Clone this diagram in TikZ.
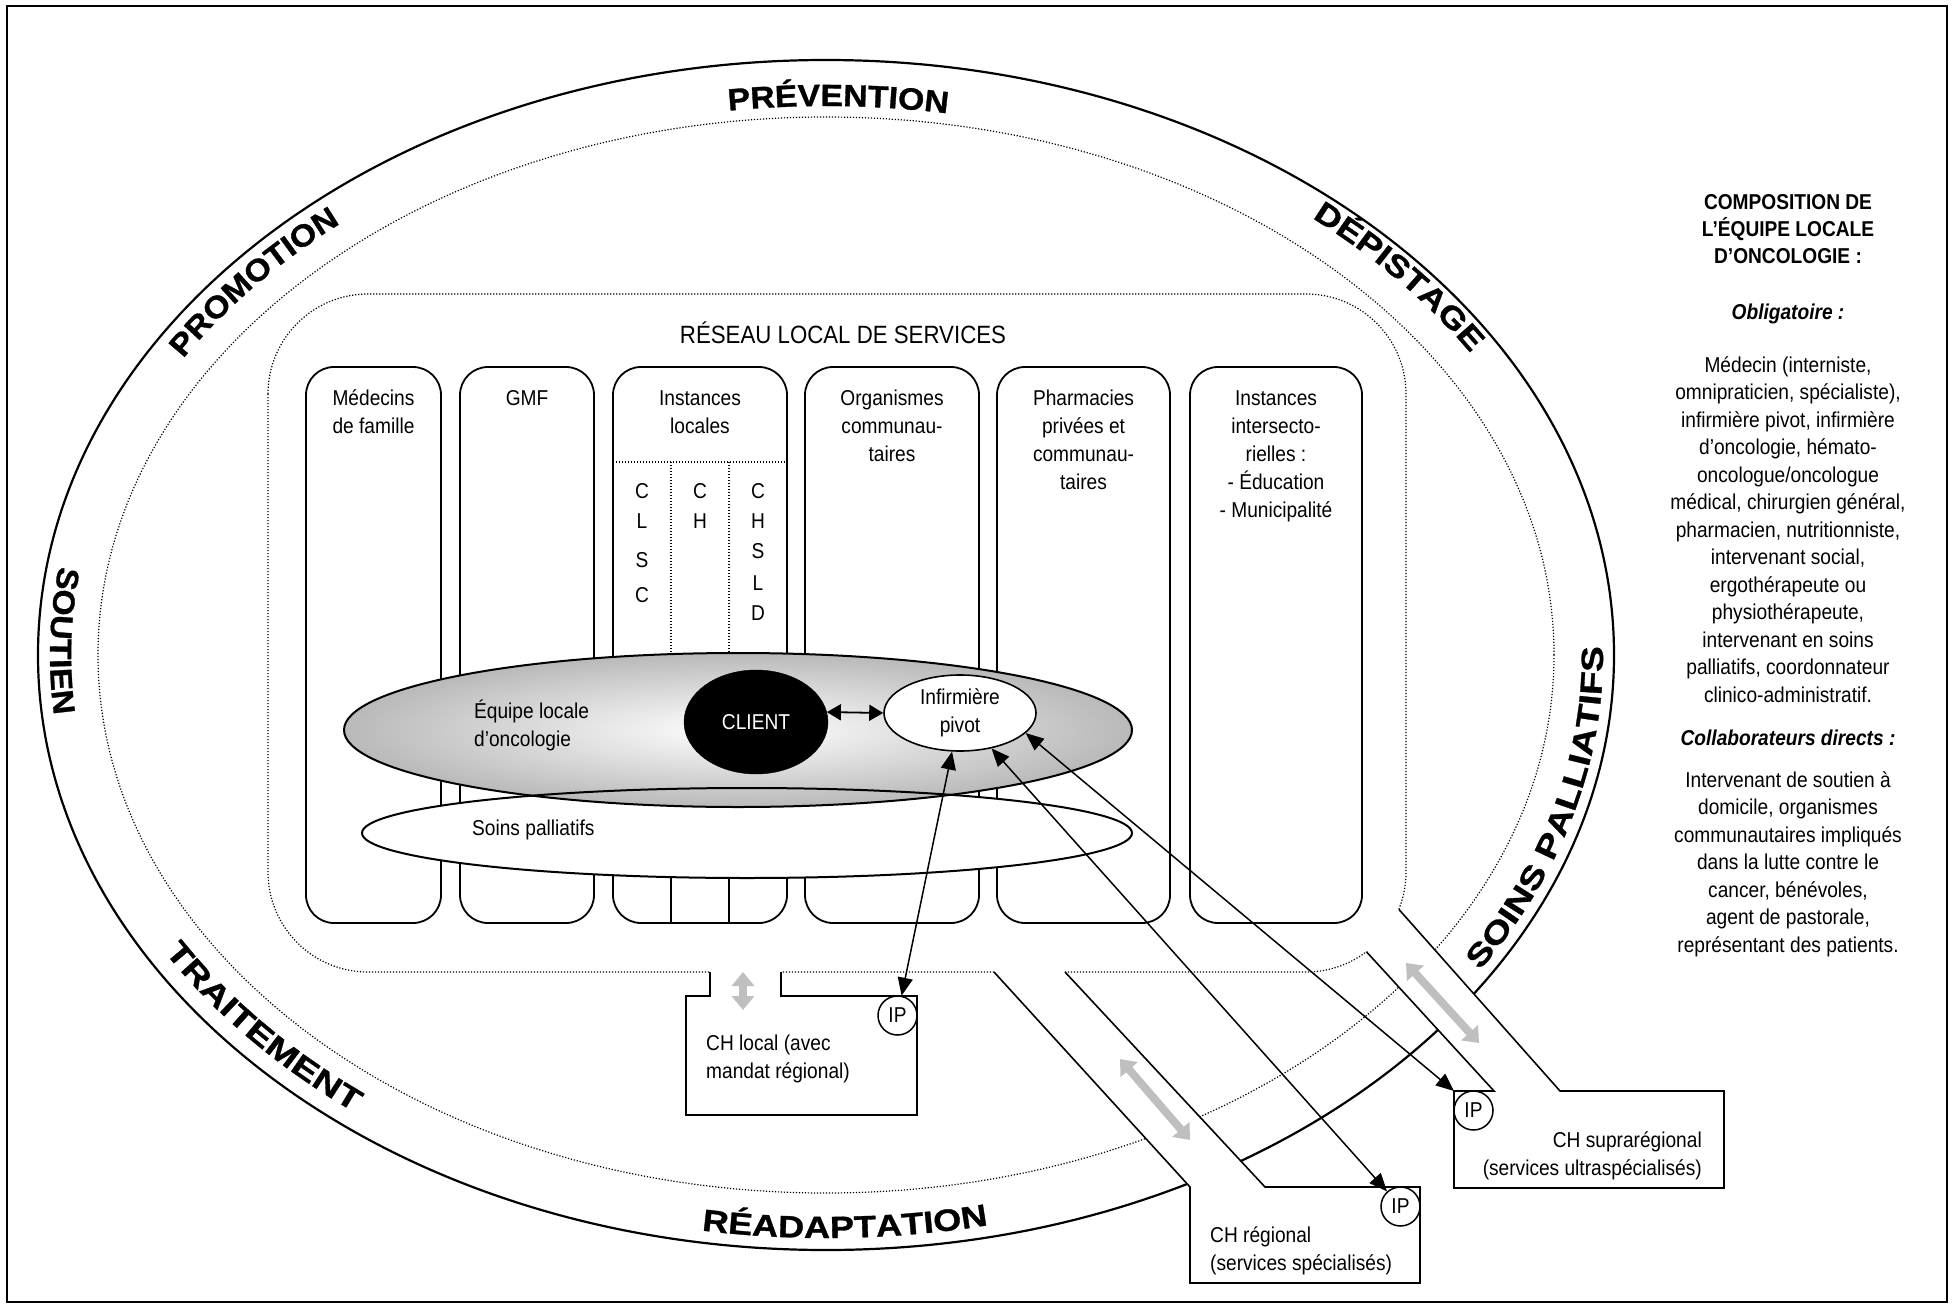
\documentclass[tikz,border=0pt]{standalone}
\usepackage{fontspec}
\setmainfont{Liberation Sans}[FakeStretch=0.89]
\newfontfamily\arcA{Liberation Sans}[FakeStretch=1.10,FakeBold=1]
\newfontfamily\arcB{Liberation Sans}[FakeStretch=1.18,FakeBold=1]
\newfontfamily\arcC{Liberation Sans}[FakeStretch=1.26,FakeBold=1]
\usetikzlibrary{arrows.meta,decorations.text,shapes.geometric}
\newcommand\txtsize{\fontsize{21.5}{28}\selectfont}
\newcommand\rpsize{\fontsize{21.5}{27.5}\selectfont}
\newcommand\mlc[1]{\begin{tabular}[t]{@{}c@{}}#1\end{tabular}}
\newcommand\mll[1]{\begin{tabular}[t]{@{}l@{}}#1\end{tabular}}
\newcommand\mlr[1]{\begin{tabular}[t]{@{}r@{}}#1\end{tabular}}
% #1 centre angle, #2 inset of baseline, #3 direction (1 ccw, -1 cw), #4 font family, #5 text
\newcommand\arclabel[5]{%
  \path[decorate,decoration={text along path,text align=center,text={|#4\bfseries\fontsize{30.7}{32}\selectfont|#5}}]
    plot[domain=-30:30,samples=121,variable=\t]
    ({826+(788-#2)*cos(#1+(#3)*\t)},{655-(595-#2)*sin(#1+(#3)*\t)});}
\begin{document}
\begin{tikzpicture}[x=1pt,y=-1pt,font=\txtsize,
  frame/.style={line width=2pt},
  ring/.style={line width=2.2pt},
  dotline/.style={line width=1.2pt,dash pattern=on 1.2pt off 1.8pt},
  colbox/.style={line width=1.8pt,rounded corners=28pt},
  boxline/.style={line width=1.6pt},
  lbl/.style={inner sep=0pt},
  link/.style={line width=1.5pt,{Triangle[length=18pt,width=15pt]}-{Triangle[length=18pt,width=15pt]}},
  shortlink/.style={line width=1.8pt,{Triangle[length=14pt,width=16pt]}-{Triangle[length=14pt,width=16pt]}},
  greylink/.style={draw=gray!50,line width=8pt,{Triangle[length=14pt,width=22pt]}-{Triangle[length=14pt,width=22pt]}},
  ipnode/.style={circle,draw,line width=1.5pt,minimum size=39pt,inner sep=0pt,fill=white}]
\useasboundingbox (0,0) rectangle (1956,1308);
\fill[white] (0,0) rectangle (1956,1308);
\draw[frame] (7,6) rectangle (1947,1302);

% rings and network
\draw[ring] (826,655) ellipse[x radius=788,y radius=595];
\draw[dotline] (826,655) ellipse[x radius=728,y radius=538];
\draw[dotline,rounded corners=100pt] (268,294) rectangle (1406,972);

% openings of the channels
\fill[white] (710,964) rectangle (781,996);
\fill[white] (994,964) -- (1065,964) -- (1065,972) -- (1265,1187) -- (1190,1187) -- (994,972) -- cycle;
\fill[white] (1363.7,948.8) -- (1494,1091) -- (1560,1091) -- (1396.1,906.3) -- cycle;

% CH boxes and channels
\draw[boxline] (710,972) -- (710,996) -- (686,996) -- (686,1115) -- (917,1115) -- (917,996) -- (781,996) -- (781,972);
\draw[boxline] (994,972) -- (1190,1187) -- (1190,1283) -- (1420,1283) -- (1420,1187) -- (1265,1187) -- (1065,972);
\draw[boxline] (1366.4,951.7) -- (1494,1091) -- (1454,1091) -- (1454,1188) -- (1724,1188) -- (1724,1091) -- (1560,1091) -- (1398.8,909.3);
\coordinate (supNW) at (1454,1091);

% columns
\draw[colbox] (306,367) rectangle (441,923);
\draw[colbox] (460,367) rectangle (594,923);
\draw[colbox] (613,367) rectangle (787,923);
\draw[colbox] (805,367) rectangle (979,923);
\draw[colbox] (997,367) rectangle (1170,923);
\draw[colbox] (1190,367) rectangle (1362,923);
\draw[dotline] (613,462) -- (787,462);
\draw[dotline] (671,462) -- (671,700);
\draw[dotline] (729,462) -- (729,700);
\draw[line width=1.3pt] (671,850) -- (671,923);
\draw[line width=1.3pt] (729,850) -- (729,923);

% column texts
\node[lbl,anchor=base] (c1) at (373.5,405) {\mlc{Médecins\\de famille}};
\node[lbl,anchor=base] (c2) at (527,405) {GMF};
\node[lbl,anchor=base] (c3) at (700,405) {\mlc{Instances\\locales}};
\node[lbl,anchor=base] (c4) at (892,405) {\mlc{Organismes\\communau-\\taires}};
\node[lbl,anchor=base] (c5) at (1083.5,405) {\mlc{Pharmacies\\privées et\\communau-\\taires}};
\node[lbl,anchor=base] (c6) at (1276,405) {\mlc{Instances\\intersecto-\\rielles :\\- Éducation\\- Municipalité}};
\foreach \l/\y [count=\i] in {C/498,L/528,S/567,C/602} \node[lbl,anchor=base] (clsc\i) at (642,\y) {\l};
\foreach \l/\y [count=\i] in {C/498,H/528} \node[lbl,anchor=base] (ch\i) at (700,\y) {\l};
\foreach \l/\y [count=\i] in {C/498,H/528,S/558,L/590,D/620} \node[lbl,anchor=base] (chsld\i) at (758,\y) {\l};
\node[lbl,anchor=base] (reseau) at (843,343) {\fontsize{25}{30}\selectfont RÉSEAU LOCAL DE SERVICES};

% ellipses
\fill[white] (747,833) ellipse[x radius=385,y radius=45];
\path[shading=radial,inner color=white,outer color=gray!55] (738,730) ellipse[x radius=394,y radius=77];
\draw[line width=2pt] (738,730) ellipse[x radius=394,y radius=77];
\draw[line width=2pt] (747,833) ellipse[x radius=385,y radius=45];
\node[lbl,anchor=base west] (eqtxt) at (474,718) {\mll{Équipe locale\\d'oncologie}};
\node[lbl,anchor=base west] (sptxt) at (472,835) {Soins palliatifs};
\node[ellipse,draw,fill=black,text=white,minimum width=144pt,minimum height=104pt,inner sep=0pt] (client) at (756,722) {CLIENT};
\node[ellipse,draw,line width=1.6pt,fill=white,minimum width=152pt,minimum height=76pt,inner sep=0pt,align=center] (pivot) at (960,713) {Infirmière\\pivot};

% IP nodes and box texts
\node[ipnode] (IPloc) at (897.5,1015.5) {IP};
\node[ipnode] (IPreg) at (1400.5,1206.5) {IP};
\node[ipnode] (IPsup) at (1473.5,1110.5) {IP};
\node[lbl,anchor=base west] (chloc) at (706,1050) {\mll{CH local (avec\\mandat régional)}};
\node[lbl,anchor=base west] (chreg) at (1210,1242) {\mll{CH régional\\(services spécialisés)}};
\node[lbl,anchor=base east] (chsup) at (1702,1147) {\mlr{CH suprarégional\\(services ultraspécialisés)}};

% connectors
\draw[shortlink] (client.8) -- (pivot.west);
\draw[link] (pivot) -- (IPloc);
\draw[link] (pivot) -- (IPreg);
\draw[link] (pivot.-17) -- (supNW);
\coordinate (g0a) at (743,972); \coordinate (g0b) at (743,1010);
\coordinate (g1a) at (1120,1059); \coordinate (g1b) at (1190,1140);
\coordinate (g2a) at (1406,963); \coordinate (g2b) at (1479,1043);
\draw[greylink] (g0a) -- (g0b);
\draw[greylink] (g1a) -- (g1b);
\draw[greylink] (g2a) -- (g2b);

% right panel
\node[lbl,anchor=base] (rphead) at (1788,209) {\rpsize\bfseries\mlc{COMPOSITION DE\\L’ÉQUIPE LOCALE\\D’ONCOLOGIE :}};
\node[lbl,anchor=base] (rpob) at (1788,319) {\rpsize\bfseries\itshape Obligatoire :};
\node[lbl,anchor=base] (rpobl) at (1788,372) {\rpsize\mlc{Médecin (interniste,\\omnipraticien, spécialiste),\\infirmière pivot, infirmière\\d’oncologie, hémato-\\oncologue/oncologue\\médical, chirurgien général,\\pharmacien, nutritionniste,\\intervenant social,\\ergothérapeute ou\\physiothérapeute,\\intervenant en soins\\palliatifs, coordonnateur\\clinico-administratif.}};
\node[lbl,anchor=base] (rpco) at (1788,745) {\rpsize\bfseries\itshape Collaborateurs directs :};
\node[lbl,anchor=base] (rpcol) at (1788,787) {\rpsize\mlc{Intervenant de soutien à\\domicile, organismes\\communautaires impliqués\\dans la lutte contre le\\cancer, bénévoles,\\agent de pastorale,\\représentant des patients.}};

% ring labels
\arclabel{89}{46}{-1}{\arcA}{PRÉVENTION}
\arclabel{141}{32}{-1}{\arcA}{PROMOTION}
\arclabel{39.3}{27}{-1}{\arcB}{DÉPISTAGE}
\arclabel{178.7}{12}{1}{\arcA}{SOUTIEN}
\arclabel{219.8}{17}{1}{\arcC}{TRAITEMENT}
\arclabel{271.5}{12}{1}{\arcB}{RÉADAPTATION}
\arclabel{344.9}{11}{1}{\arcC}{SOINS PALLIATIFS}
\end{tikzpicture}
\end{document}
